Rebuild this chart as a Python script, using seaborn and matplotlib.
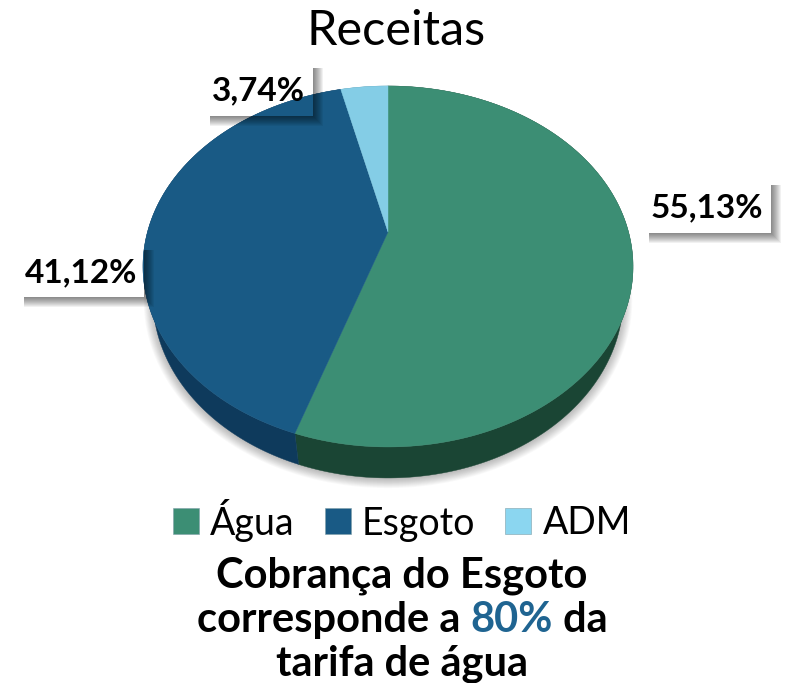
import matplotlib
matplotlib.use("Agg")
import matplotlib.pyplot as plt
import numpy as np
import seaborn as sns
from matplotlib.patches import Patch, Polygon, Rectangle

categories = ["Água", "Esgoto", "ADM"]
values = [55.13, 41.12, 3.74]
title = "Receitas"
note_lines = ["Cobrança do Esgoto", "tarifa de água"]
note_parts = ["corresponde a ", "80%", " da"]

top_colors = ["#3C8E74", "#195A85", "#84CDE6"]
side_colors = ["#1A4534", "#0E3A5C", "#4F8FA6"]
legend_colors = ["#3C8E74", "#195A85", "#8BD6F0"]
label_boxes = [(643, 179, 128, 54), (18, 244, 126, 53), (204, 62, 109, 54)]

sns.set_theme(style="white")
plt.rcParams["font.family"] = ["Lato", "DejaVu Sans"]

fig = plt.figure(figsize=(7.92, 6.83), dpi=100)
ax = fig.add_axes([0, 0, 1, 1])

wedges, _ = ax.pie(values, startangle=90, counterclock=False, colors=top_colors)
ax.set_aspect("auto")
ax.set_xlim(0, 792)
ax.set_ylim(683, 0)
ax.axis("off")


# pie is seen in perspective, so the apex is not the middle of the ellipse
def project(pts):
    k = 0.191
    d = 1 + k * pts[:, 1]
    return np.column_stack([388 + 240.5 * pts[:, 0] / d, 232 - 173.9 * pts[:, 1] / d])


faces = []
rims = []
for w in wedges:
    t = np.radians(np.linspace(w.theta1, w.theta2, 200))
    rim = project(np.column_stack([np.cos(t), np.sin(t)]))
    rims.append(rim)
    faces.append(np.vstack([[[388, 232]], rim]))
    w.remove()


# lower rim of the disc, a bit narrower because of the perspective
def lower_rim(pts):
    return np.column_stack([388 + (pts[:, 0] - 388) * 0.96, pts[:, 1] + 31])


# white boxes sit behind the pie
for x, y, w, h in label_boxes:
    ax.add_patch(Rectangle((x, y), w, h, fc="white", ec="none", zorder=1))

# soft shadow under the pie
outline = lower_rim(np.vstack(rims))
for i in range(12):
    grown = (outline - [388, 297]) * (1 + 0.0035 * i) + [388, 298 + 0.2 * i]
    ax.add_patch(Polygon(grown, fc="black", ec="none", alpha=0.022, zorder=1.5))

for rim, c in zip(rims, side_colors):
    ax.add_patch(Polygon(np.vstack([rim, lower_rim(rim)[::-1]]), fc=c, ec=c, lw=0.3, zorder=2))
for face, c in zip(faces, top_colors):
    ax.add_patch(Polygon(face, fc=c, ec=c, lw=0.3, zorder=3))

# box shadows fall on top of the pie as well
for x, y, w, h in label_boxes:
    for i in range(1, 11):
        corner = [(x + w, y + 6), (x + w + i, y + 6), (x + w + i, y + h + i),
                  (x + 6, y + h + i), (x + 6, y + h), (x + w, y + h)]
        ax.add_patch(Polygon(corner, fc="black", ec="none", alpha=0.055, zorder=4))

for v, (x, y, w, h) in zip(values, label_boxes):
    ax.text(x + w / 2, y + h / 2 + 2, f"{v:.2f}".replace(".", ",") + "%", ha="center", va="center",
            fontsize=24, fontweight="bold", color="black", zorder=5)

ax.text(396, 31, title, ha="center", va="center", fontsize=35, color="black")

handles = [Patch(fc=c, ec="#7f9fa8", lw=0.4, label=n) for c, n in zip(legend_colors, categories)]
ax.legend(handles=handles, ncol=3, frameon=False, loc="center", bbox_to_anchor=(402, 520),
          bbox_transform=ax.transData, fontsize=27, handlelength=0.69, handleheight=0.69,
          handletextpad=0.3, columnspacing=0.8, labelcolor="black")

note_kw = dict(fontsize=30, fontweight="bold", va="center")
ax.text(402, 576, note_lines[0], ha="center", color="black", **note_kw)
ax.text(402, 664, note_lines[1], ha="center", color="black", **note_kw)

# middle line has one coloured word, place the pieces one after the other
renderer = fig.canvas.get_renderer()
pieces = [ax.text(0, 620, p, ha="left", color=c, **note_kw)
          for p, c in zip(note_parts, ["black", "#1F6491", "black"])]
probe = [ax.text(0, 620, p.replace(" ", "\u00a0"), ha="left", alpha=0, **note_kw) for p in note_parts]
widths = [t.get_window_extent(renderer).width for t in probe]
for t in probe:
    t.remove()
x = 402 - sum(widths) / 2
for t, w in zip(pieces, widths):
    t.set_x(x)
    x += w

fig.savefig("out.png", dpi=100)
